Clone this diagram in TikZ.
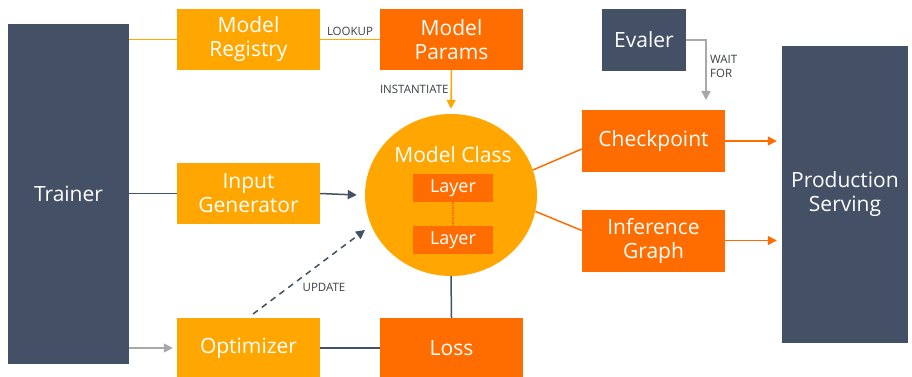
\documentclass[tikz,border=0pt]{standalone}
\usepackage{fontspec}
\setmainfont{Open Sans}
\usetikzlibrary{arrows.meta,shapes.geometric}
\definecolor{gold}{HTML}{FFA700}
\definecolor{dorange}{HTML}{FF6D00}
\definecolor{slate}{HTML}{435066}
\definecolor{lgrey}{HTML}{A8A8A8}
\definecolor{lbl}{HTML}{3C4043}
\tikzset{
  box/.style={rectangle, draw=none, inner sep=0pt, text=white, align=center,
    font=\fontsize{21}{24}\selectfont},
  goldbox/.style={box, fill=gold, minimum width=143pt, minimum height=61pt},
  orbox/.style={box, fill=dorange, minimum width=143pt, minimum height=61pt},
  slatebox/.style={box, fill=slate},
  tag/.style={text=lbl, font=\fontsize{11.5}{14}\selectfont, inner sep=1pt, align=left},
  conn/.style={line width=1.5pt},
  tip/.style={-{Triangle[length=9pt,width=9pt]}},
}
\begin{document}
\begin{tikzpicture}[x=1pt,y=-1pt]
\useasboundingbox[fill=white] (0,0) rectangle (912,377);
% nodes
\node[slatebox, minimum width=121pt, minimum height=340pt] (trainer) at (68.5,194) {Trainer};
\node[goldbox] (registry) at (248.5,39.5) {Model\\Registry};
\node[orbox] (params) at (451.5,39.5) {Model\\Params};
\node[goldbox] (inputgen) at (248.5,193.5) {Input\\Generator};
\node[goldbox, minimum height=60pt] (optimizer) at (248.5,348) {Optimizer};
\node[orbox, minimum height=60pt] (loss) at (451.5,348) {Loss};
\node[ellipse, fill=gold, inner sep=0pt, minimum width=172pt, minimum height=162pt] (mc) at (451,195) {};
\node[box] (mctext) at (453,155) {Model Class};
\node[orbox, minimum width=80pt, minimum height=28pt, font=\fontsize{18}{21}\selectfont] (layer1) at (453,188) {Layer};
\node[orbox, minimum width=80pt, minimum height=28pt, font=\fontsize{18}{21}\selectfont] (layer2) at (453,240) {Layer};
\node[orbox, minimum height=62pt] (ckpt) at (653.5,141) {Checkpoint};
\node[orbox, minimum height=62pt] (infer) at (653.5,240.5) {Inference\\Graph};
\node[slatebox, minimum width=126pt, minimum height=297pt] (prod) at (845,194.5) {Production\\Serving};
\node[slatebox, minimum width=84pt, minimum height=62pt] (evaler) at (644,40) {Evaler};
\coordinate (upd) at (365,230);
\coordinate (updstart) at (253,314);
\coordinate (wf) at (706,100);
% connectors
\draw[conn, gold] (trainer.east |- registry.west) -- (registry.west);
\draw[conn, slate] (trainer.east |- inputgen.west) -- (inputgen.west);
\draw[conn, lgrey, tip] (trainer.east |- optimizer.west) -- ([xshift=-4pt]optimizer.west);
\draw[conn, gold] (registry.east) -- node[tag, above, pos=0.5, yshift=2pt] {LOOKUP} (params.west);
\draw[conn, gold, tip] (params.south) -- node[tag, left, pos=0.5, xshift=-1pt] {INSTANTIATE} ([yshift=5pt]mc.north);
\draw[conn, slate, tip] (inputgen.east) -- ([xshift=-8pt]mc.west);
\draw[conn, slate, dashed, dash pattern=on 6pt off 5pt, tip] (updstart) -- (upd);
\node[tag] (updlbl) at (324,287) {UPDATE};
\draw[conn, slate] (optimizer.east) -- (loss.west);
\draw[conn, slate] (loss.north) -- (mc.south);
\draw[conn, dorange, densely dotted] (layer1.south) -- (layer2.north);
\draw[conn, dorange] (mc.17) -- ([yshift=-8pt]ckpt.west);
\draw[conn, dorange] (mc.-11) -- ([yshift=10pt]infer.west);
\draw[conn, dorange, tip] (ckpt.east) -- ([xshift=-5pt]prod.west |- ckpt.east);
\draw[conn, dorange, tip] (infer.east) -- ([xshift=-5pt]prod.west |- infer.east);
\draw[conn, lgrey, tip] (evaler.east) -| (wf);
\node[tag, anchor=west] (wflbl) at (709,66) {WAIT\\FOR};
\end{tikzpicture}
\end{document}
